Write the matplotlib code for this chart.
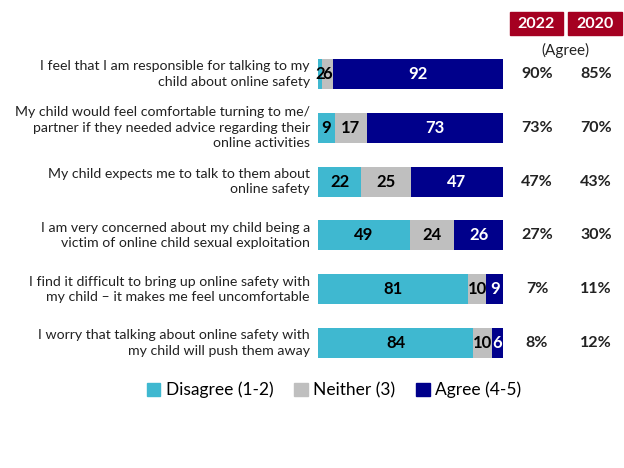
import numpy as np
import matplotlib.pyplot as plt
import matplotlib.transforms as mtransforms
from matplotlib.patches import Rectangle, Patch

plt.rcParams['font.family'] = ['Lato', 'DejaVu Sans']

# --- DONNEES ---
statements = [
    "I feel that I am responsible for talking to my\nchild about online safety",
    "My child would feel comfortable turning to me/\npartner if they needed advice regarding their\nonline activities",
    "My child expects me to talk to them about\nonline safety",
    "I am very concerned about my child being a\nvictim of online child sexual exploitation",
    "I find it difficult to bring up online safety with\nmy child \u2013 it makes me feel uncomfortable",
    "I worry that talking about online safety with\nmy child will push them away",
]
disagree = [2, 9, 22, 49, 81, 84]
neither = [6, 17, 25, 24, 10, 10]
agree = [92, 73, 47, 26, 9, 6]
agree_2022 = ["90%", "73%", "47%", "27%", "7%", "8%"]
agree_2020 = ["85%", "70%", "43%", "30%", "11%", "12%"]

c_dis = '#3FB8D0'
c_nei = '#BFBFBF'
c_agr = '#00008B'
c_head = '#A50021'

W, H = 624, 468
fig = plt.figure(figsize=(W / 100, H / 100), dpi=100)
ax = fig.add_axes([318 / W, 1 - 370 / H, 185 / W, 323 / H])

y = np.arange(len(statements))
tot = np.array(disagree) + np.array(neither) + np.array(agree)
segs = [(np.array(disagree) / tot * 100, disagree, c_dis, 'black'),
        (np.array(neither) / tot * 100, neither, c_nei, 'black'),
        (np.array(agree) / tot * 100, agree, c_agr, 'white')]

left = np.zeros(len(y))
for width, vals, col, tcol in segs:
    ax.barh(y, width, left=left, height=0.56, color=col)
    for i in range(len(y)):
        ax.text(left[i] + width[i] / 2, y[i], str(vals[i]), ha='center', va='center',
                color=tcol, fontsize=12, fontweight='bold')
    left = left + width

ax.set_xlim(0, 100)
ax.set_ylim(len(y) - 0.5, -0.5)
ax.set_xticks([])
for s in ax.spines.values():
    s.set_visible(False)
ax.set_yticks([])

# libelles a gauche (texte multi-lignes aligne a droite)
lab_trans = mtransforms.blended_transform_factory(fig.transFigure, ax.transData)
for i in range(len(y)):
    fig.text(310 / W, y[i], statements[i], transform=lab_trans, ha='right', va='center',
             multialignment='right', fontsize=10.2, color='#222222', linespacing=1.35)

# --- COLONNES 2022 / 2020 ---
trans = mtransforms.blended_transform_factory(fig.transFigure, ax.transData)
for i in range(len(y)):
    fig.text(537 / W, y[i], agree_2022[i], transform=trans, ha='center', va='center',
             fontsize=11.5, fontweight='bold', color='#222222')
    fig.text(596 / W, y[i], agree_2020[i], transform=trans, ha='center', va='center',
             fontsize=11.5, fontweight='bold', color='#222222')

for x0, x1, lab in [(510, 563, '2022'), (568, 622, '2020')]:
    fig.patches.append(Rectangle((x0 / W, 1 - 35 / H), (x1 - x0) / W, 23 / H,
                                 transform=fig.transFigure, color=c_head))
    fig.text((x0 + x1) / 2 / W, 1 - 23.5 / H, lab, ha='center', va='center',
             color='white', fontsize=11.5, fontweight='bold')
fig.text(565 / W, 1 - 50 / H, "(Agree)", ha='center', va='center', fontsize=11,
         color='#222222')

# --- LEGENDE ---
handles = [Patch(color=c_dis, label='Disagree (1-2)'),
           Patch(color=c_nei, label='Neither (3)'),
           Patch(color=c_agr, label='Agree (4-5)')]
fig.legend(handles=handles, loc='center', bbox_to_anchor=(334 / W, 1 - 390 / H), ncol=3,
           frameon=False, fontsize=12.5, handlelength=0.8, handleheight=0.8,
           handletextpad=0.3, columnspacing=1.2)

plt.savefig("out.png", dpi=100)
